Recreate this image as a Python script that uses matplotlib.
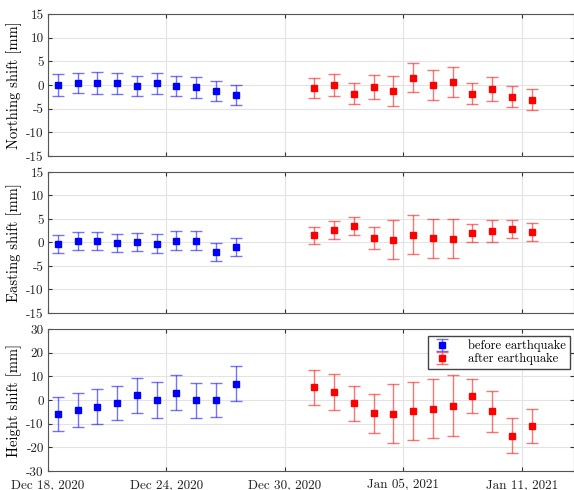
import numpy as np
import pandas as pd
from matplotlib import pyplot as plt
from matplotlib import rcParams
import matplotlib.dates as mdates

rcParams.update({
  'font.family': 'serif',
  'font.serif': ['cmr10', 'DejaVu Serif'],
  'mathtext.fontset': 'cm',
  'axes.unicode_minus': False,
  'axes.formatter.use_mathtext': False,
  'axes.edgecolor': '#555555',
  'axes.linewidth': 0.8,
  'xtick.direction': 'in',
  'ytick.direction': 'in',
  'xtick.top': True,
  'ytick.right': True,
  'xtick.major.size': 3,
  'ytick.major.size': 3,
  'xtick.color': '#333333',
  'ytick.color': '#333333',
  'xtick.labelcolor': '#222222',
  'ytick.labelcolor': '#222222',
  'font.size': 10,
})

# observation epochs (daily solutions, noon)
BEFORE_DATES = ['2020-12-18 12:00', '2020-12-19 12:00', '2020-12-20 12:00',
                '2020-12-21 12:00', '2020-12-22 12:00', '2020-12-23 12:00',
                '2020-12-24 12:00', '2020-12-25 12:00', '2020-12-26 12:00',
                '2020-12-27 12:00']
AFTER_DATES = ['2020-12-31 12:00', '2021-01-01 12:00', '2021-01-02 12:00',
               '2021-01-03 12:00', '2021-01-04 12:00', '2021-01-05 12:00',
               '2021-01-06 12:00', '2021-01-07 12:00', '2021-01-08 12:00',
               '2021-01-09 12:00', '2021-01-10 12:00', '2021-01-11 12:00']

# northing [mm]
N_BEFORE = [0.0, 0.4, 0.4, 0.35, -0.2, 0.35, -0.2, -0.5, -1.2, -2.1]
N_BEFORE_ERR = [2.25, 2.1, 2.25, 2.2, 2.1, 2.2, 2.2, 2.2, 2.1, 2.2]
N_AFTER = [-0.6, 0.0, -1.8, -0.35, -1.25, 1.55, 0.0, 0.65, -1.8, -0.85, -2.45, -3.1]
N_AFTER_ERR = [2.15, 2.25, 2.2, 2.55, 3.1, 3.1, 3.25, 3.2, 2.15, 2.55, 2.2, 2.15]

# easting [mm]
E_BEFORE = [-0.25, 0.4, 0.4, -0.05, 0.05, -0.25, 0.4, 0.4, -1.95, -0.9]
E_BEFORE_ERR = [1.95, 1.9, 1.9, 1.95, 1.9, 2.0, 2.0, 2.0, 1.9, 1.9]
E_AFTER = [1.5, 2.6, 3.55, 0.9, 0.6, 1.65, 0.9, 0.8, 2.0, 2.4, 2.9, 2.2]
E_AFTER_ERR = [1.9, 1.9, 1.9, 2.35, 4.1, 4.1, 4.15, 4.15, 1.9, 2.3, 1.9, 1.95]

# height [mm]
H_BEFORE = [-6.1, -4.1, -2.8, -1.3, 2.1, 0.0, 3.0, -0.1, 0.0, 6.8]
H_BEFORE_ERR = [7.2, 7.2, 7.3, 7.35, 7.4, 7.4, 7.4, 7.35, 7.2, 7.4]
H_AFTER = [5.4, 3.4, -1.4, -5.7, -5.8, -4.7, -3.7, -2.4, 1.6, -4.8, -15.1, -11.0]
H_AFTER_ERR = [7.4, 7.5, 7.5, 8.2, 12.5, 12.4, 12.5, 12.9, 7.3, 8.7, 7.35, 7.35]

XTICKS = ['2020-12-18', '2020-12-24', '2020-12-30', '2021-01-05', '2021-01-11']

BLUE = '#0000ff'
RED = '#ff0000'

panels = [
  ('Northing shift [mm]', N_BEFORE, N_BEFORE_ERR, N_AFTER, N_AFTER_ERR, (-15, 15), 5),
  ('Easting shift [mm]', E_BEFORE, E_BEFORE_ERR, E_AFTER, E_AFTER_ERR, (-15, 15), 5),
  ('Height shift [mm]', H_BEFORE, H_BEFORE_ERR, H_AFTER, H_AFTER_ERR, (-30, 30), 10),
]

# pixel boxes (top, bottom) of each panel in the 490 px tall figure
boxes = [(14, 156), (172, 313), (329, 471)]

fig = plt.figure(figsize=(5.74, 4.90), dpi=100)

tb = pd.to_datetime(BEFORE_DATES)
ta = pd.to_datetime(AFTER_DATES)
x0 = pd.Timestamp('2020-12-18')
x1 = x0 + pd.Timedelta(days=26.65)

left = 48 / 574
for (label, yb, eb, ya, ea, ylim, step), (top, bot) in zip(panels, boxes):
  ax = fig.add_axes([left, 1 - bot / 490, 1.0 - left, (bot - top) / 490])
  hb = ax.errorbar(tb, yb, yerr=eb, fmt='s', color=BLUE, ms=4.8,
                   ecolor=(0, 0, 1, 0.55), elinewidth=1.0, capsize=4, capthick=1.0,
                   label='before earthquake', zorder=3)
  ha = ax.errorbar(ta, ya, yerr=ea, fmt='s', color=RED, ms=4.8,
                   ecolor=(1, 0, 0, 0.55), elinewidth=1.0, capsize=4, capthick=1.0,
                   label='after earthquake', zorder=3)
  ax.set_ylim(*ylim)
  ax.set_yticks(np.arange(ylim[0], ylim[1] + step, step))
  ax.set_xlim(x0, x1)
  ax.set_xticks(pd.to_datetime(XTICKS))
  ax.xaxis.set_major_formatter(mdates.DateFormatter('%b %d, %Y'))
  ax.grid(True, color='#e3e3e3', linewidth=0.8)
  ax.set_axisbelow(True)
  ax.set_ylabel(label, fontsize=10.5, labelpad=3)
  ax.tick_params(axis='y', labelsize=9.5, pad=3)
  ax.tick_params(axis='x', labelsize=9.5, pad=6)
  if label.startswith('Height'):
    ax.legend(handles=[hb, ha], loc='upper right', fontsize=9,
              bbox_to_anchor=(570 / 574, 1 - 336 / 490),
              bbox_transform=fig.transFigure, borderaxespad=0,
              fancybox=False, framealpha=1, edgecolor='#444444',
              handlelength=1.6, handletextpad=1.3, borderpad=0.3,
              labelspacing=0.05)
  else:
    ax.tick_params(labelbottom=False)

plt.savefig('out.png', dpi=100)
